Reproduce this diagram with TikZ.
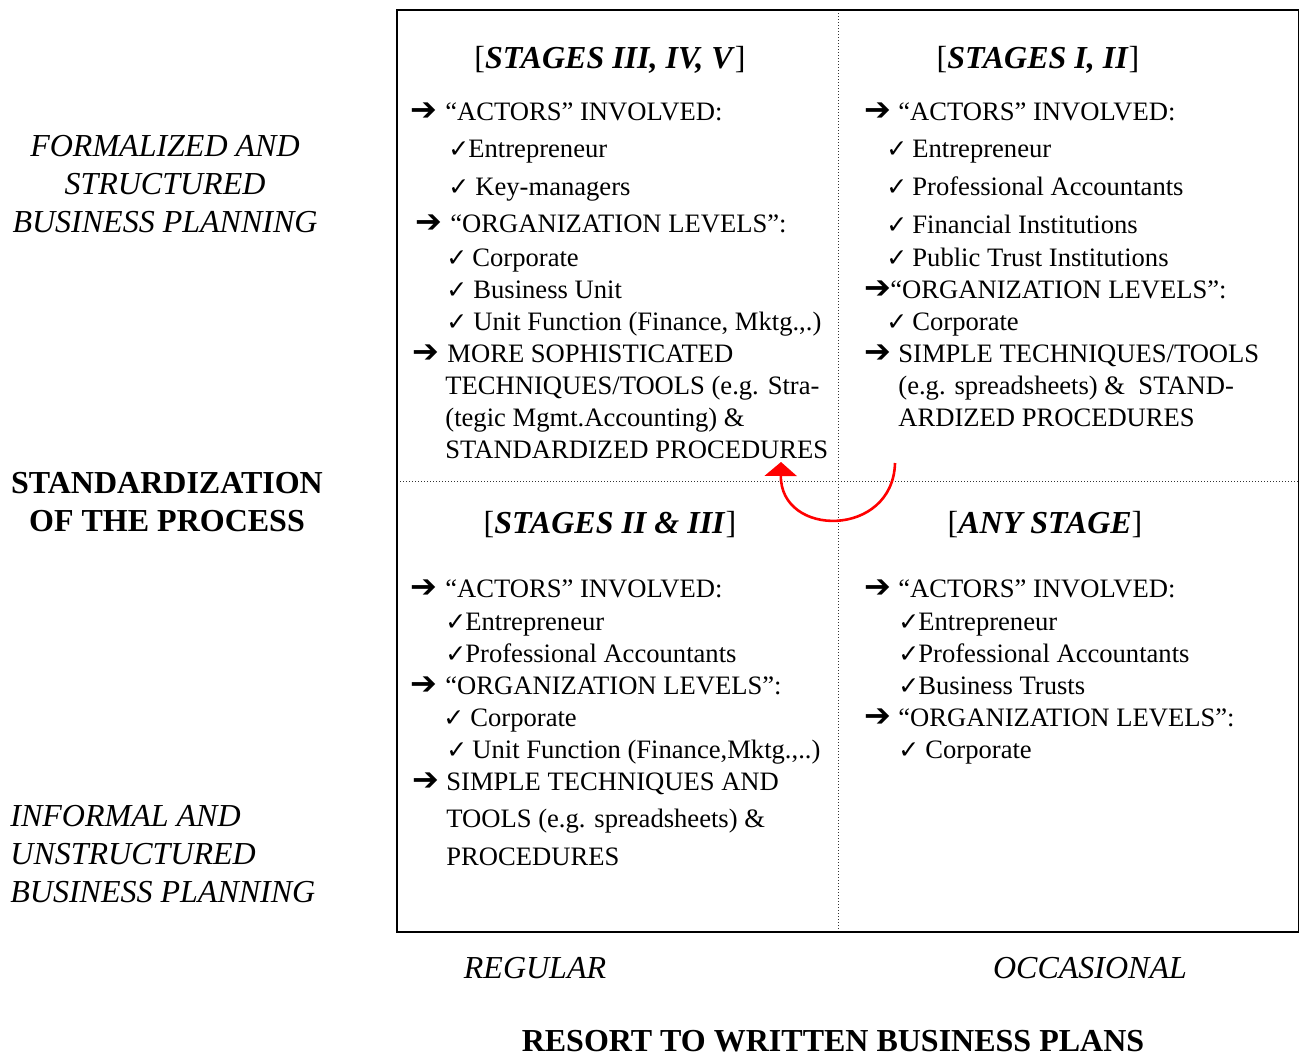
\documentclass[tikz,border=0pt]{standalone}
\usepackage{fontspec}
\setmainfont{Liberation Serif}
\newfontfamily\symfont{DejaVu Sans}
\usetikzlibrary{arrows.meta}
% bullet glyphs
\newcommand\rar{{\symfont\fontsize{16}{14}\selectfont ➔}}
\newcommand\ckm{{\symfont\fontsize{12.5}{14}\selectfont ✓}}
\newcommand\lead[2]{\makebox[#1pt][l]{#2}}
\tikzset{
  bl/.style={anchor=base west, inner sep=0pt, font=\fontsize{13.3}{15}\selectfont},
  ttl/.style={anchor=base, inner sep=0pt, font=\fontsize{16}{19}\selectfont},
  side/.style={inner sep=0pt, font=\fontsize{16}{19}\selectfont},
  grid/.style={densely dotted, line width=0.5pt, black!80},
}
\begin{document}
\begin{tikzpicture}[x=0.5pt,y=-0.5pt]
\useasboundingbox (0,0) rectangle (1300,1055);
% frame and quadrant dividers
\draw[grid] (838,10) -- (838,932);
\draw[grid] (397,481) -- (1298.5,481);
\draw[line width=0.6pt] (397,10) rectangle (1298.5,932);

% quadrant headings
\node[ttl] (hTL) at (610,68) {[\textbf{\textit{STAGES III, IV, V}}]};
\node[ttl] (hTR) at (1038,68) {[\textbf{\textit{STAGES I, II}}]};
\node[ttl] (hBL) at (610,533) {[\textbf{\textit{STAGES II \& III}}]};
\node[ttl] (hBR) at (1045,533) {[\textbf{\textit{ANY STAGE}}]};

% top-left quadrant
\node[bl] (tl1) at (410,120) {\lead{17.5}{\rar}“ACTORS” INVOLVED:};
\node[bl] (tl2) at (448,157) {\lead{10}{\ckm}Entrepreneur};
\node[bl] (tl3) at (448,195) {\lead{13.5}{\ckm}Key-managers};
\node[bl] (tl4) at (415,232) {\lead{17.5}{\rar}“ORGANIZATION LEVELS”:};
\node[bl] (tl5) at (446,266) {\lead{13}{\ckm}Corporate};
\node[bl] (tl6) at (446,298) {\lead{13.5}{\ckm}Business Unit};
\node[bl] (tl7) at (446,330) {\lead{13.5}{\ckm}Unit Function (Finance, Mktg.,.)};
\node[bl] (tl8) at (412,362) {\lead{17.5}{\rar}MORE SOPHISTICATED};
\node[bl] (tl9) at (445,394) {TECHNIQUES/TOOLS (e.g. Stra-};
\node[bl] (tl10) at (445,426) {(tegic Mgmt.Accounting) \&};
\node[bl] (tl11) at (445,458) {STANDARDIZED PROCEDURES};

% top-right quadrant
\node[bl] (tr1) at (864,120) {\lead{17}{\rar}“ACTORS” INVOLVED:};
\node[bl] (tr2) at (886,157) {\lead{13}{\ckm}Entrepreneur};
\node[bl] (tr3) at (886,195) {\lead{13}{\ckm}Professional Accountants};
\node[bl] (tr4) at (886,233) {\lead{13}{\ckm}Financial Institutions};
\node[bl] (tr5) at (886,266) {\lead{13}{\ckm}Public Trust Institutions};
\node[bl] (tr6) at (864,298) {\lead{13}{\rar}“ORGANIZATION LEVELS”:};
\node[bl] (tr7) at (886,330) {\lead{13}{\ckm}Corporate};
\node[bl] (tr8) at (864,362) {\lead{17}{\rar}SIMPLE TECHNIQUES/TOOLS};
\node[bl] (tr9) at (898,394) {(e.g. spreadsheets) \&\ \ STAND-};
\node[bl] (tr10) at (898,426) {ARDIZED PROCEDURES};

% bottom-left quadrant
\node[bl] (bl1) at (410,597) {\lead{17.5}{\rar}“ACTORS” INVOLVED:};
\node[bl] (bl2) at (445,630) {\lead{10}{\ckm}Entrepreneur};
\node[bl] (bl3) at (445,662) {\lead{10}{\ckm}Professional Accountants};
\node[bl] (bl4) at (410,694) {\lead{17.5}{\rar}“ORGANIZATION LEVELS”:};
\node[bl] (bl5) at (443,726) {\lead{13.5}{\ckm}Corporate};
\node[bl] (bl6) at (446,758) {\lead{13}{\ckm}Unit Function (Finance,Mktg.,..)};
\node[bl] (bl7) at (412,790) {\lead{17}{\rar}SIMPLE TECHNIQUES AND};
\node[bl] (bl8) at (446,827) {TOOLS (e.g. spreadsheets) \&};
\node[bl] (bl9) at (446,865) {PROCEDURES};

% bottom-right quadrant
\node[bl] (br1) at (864,597) {\lead{17}{\rar}“ACTORS” INVOLVED:};
\node[bl] (br2) at (898,630) {\lead{10}{\ckm}Entrepreneur};
\node[bl] (br3) at (898,662) {\lead{10}{\ckm}Professional Accountants};
\node[bl] (br4) at (898,694) {\lead{10}{\ckm}Business Trusts};
\node[bl] (br5) at (864,726) {\lead{17}{\rar}“ORGANIZATION LEVELS”:};
\node[bl] (br6) at (898,758) {\lead{13.5}{\ckm}Corporate};

% vertical axis labels
\node[side, align=center, font=\fontsize{16}{19}\selectfont\itshape] (yTop) at (165,184)
  {FORMALIZED AND\\STRUCTURED\\BUSINESS PLANNING};
\node[side, align=center, font=\fontsize{16}{19}\selectfont\bfseries] (yMid) at (167,502)
  {STANDARDIZATION\\OF THE PROCESS};
\node[side, align=left, anchor=west, font=\fontsize{16}{19}\selectfont\itshape] (yBot) at (10,854)
  {INFORMAL AND\\UNSTRUCTURED\\BUSINESS PLANNING};

% horizontal axis labels
\node[ttl, font=\fontsize{16}{19}\selectfont\itshape] (xL) at (535,978) {REGULAR};
\node[ttl, font=\fontsize{16}{19}\selectfont\itshape] (xR) at (1090,978) {OCCASIONAL};
\node[ttl, font=\fontsize{16}{19}\selectfont\bfseries] (xT) at (833,1051) {RESORT TO WRITTEN BUSINESS PLANS};

% transition arrow between the upper quadrants
\coordinate (arrS) at (895,463);
\coordinate (arrE) at (781,462);
\draw[red, line width=1.3pt, -{Triangle[width=16pt,length=7pt]}]
  (arrS) .. controls (893,538) and (780,538) .. (arrE);
\end{tikzpicture}
\end{document}
